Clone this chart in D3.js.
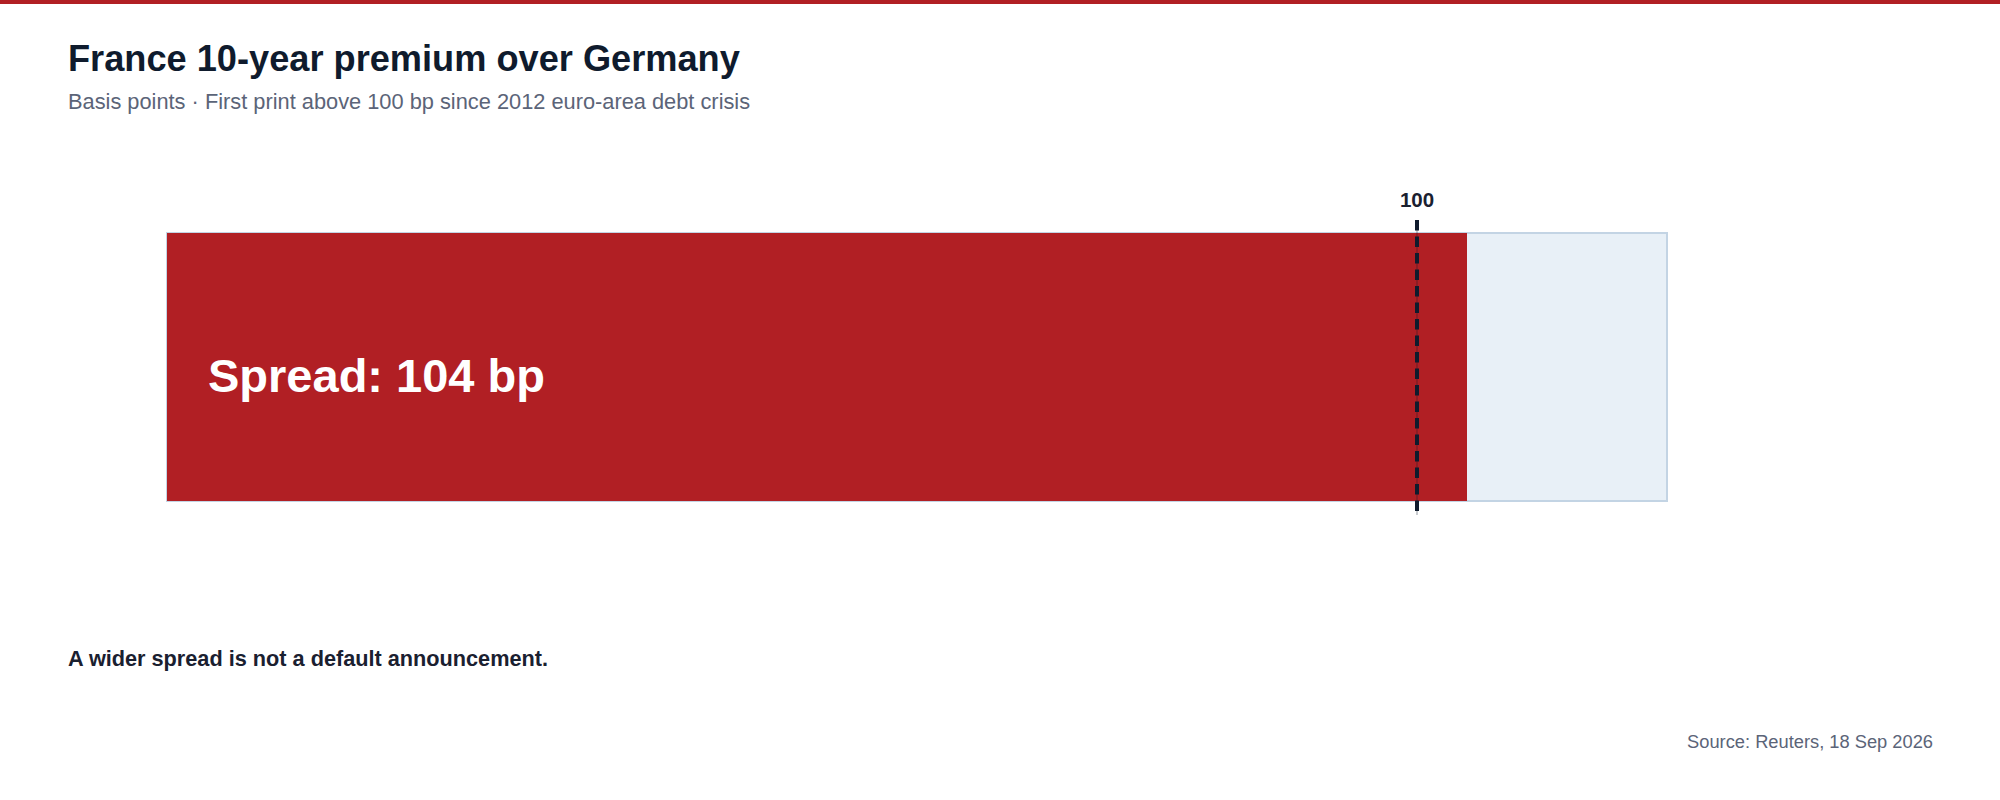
<!DOCTYPE html>
<html>
<head>
<meta charset="utf-8">
<script src="https://cdn.jsdelivr.net/npm/d3@7.9.0/dist/d3.min.js"></script>
<style>
  html, body { margin: 0; padding: 0; background: #fff; }
  svg { display: block; font-family: "Liberation Sans", Arial, Helvetica, sans-serif; }
</style>
</head>
<body>
<svg id="chart" width="2000" height="800"></svg>
<script>
// chart values
const categories = ['France vs Germany 10y'];
const spreadValues = [104];
const thresholdValues = [100];
const domainMax = [120];

const title = 'France 10-year premium over Germany';
const subtitle = 'Basis points \u00b7 First print above 100 bp since 2012 euro-area debt crisis';
const note = 'A wider spread is not a default announcement.';
const source = 'Source: Reuters, 18 Sep 2026';

const svg = d3.select('#chart');

// top accent rule
svg.append('rect')
  .attr('x', 0).attr('y', 0)
  .attr('width', 2000).attr('height', 4)
  .attr('fill', '#b11f24');

svg.append('text')
  .attr('x', 68).attr('y', 71)
  .attr('font-size', 36.2).attr('font-weight', 700)
  .attr('fill', '#0f1b2d')
  .text(title);

svg.append('text')
  .attr('x', 68).attr('y', 109)
  .attr('font-size', 21.8)
  .attr('fill', '#5b6478')
  .text(subtitle);

let x = d3.scaleLinear().domain([0, domainMax[0]]).range([167, 1667]);
let y = d3.scaleBand().domain(categories).range([233, 501]).padding(0);

// track (full scale)
svg.selectAll('rect.track')
  .data(categories)
  .join('rect')
  .attr('class', 'track')
  .attr('x', x(0))
  .attr('y', d => y(d))
  .attr('width', x(domainMax[0]) - x(0))
  .attr('height', y.bandwidth())
  .attr('fill', '#e8f0f7')
  .attr('stroke', '#c3d4e4')
  .attr('stroke-width', 2);

// spread bar
svg.selectAll('rect.bar')
  .data(spreadValues)
  .join('rect')
  .attr('class', 'bar')
  .attr('x', x(0))
  .attr('y', (d, i) => y(categories[i]))
  .attr('width', d => x(d) - x(0))
  .attr('height', y.bandwidth())
  .attr('fill', '#b11f24');

svg.selectAll('text.barlabel')
  .data(spreadValues)
  .join('text')
  .attr('class', 'barlabel')
  .attr('x', x(0) + 41)
  .attr('y', (d, i) => y(categories[i]) + y.bandwidth() / 2 + 25)
  .attr('font-size', 47).attr('font-weight', 700)
  .attr('fill', '#fff')
  .text(d => `Spread: ${d} bp`);

// threshold marker
thresholdValues.forEach(t => {
  const top = y.range()[0] - 13;
  const bottom = y.range()[1] + 14;
  svg.append('line')
    .attr('x1', x(t)).attr('x2', x(t))
    .attr('y1', top).attr('y2', bottom)
    .attr('stroke', '#0f1b2d').attr('stroke-opacity', 0.45)
    .attr('stroke-width', 1);
  svg.append('line')
    .attr('x1', x(t)).attr('x2', x(t))
    .attr('y1', top).attr('y2', bottom)
    .attr('stroke', '#0f1b2d')
    .attr('stroke-width', 4)
    .attr('stroke-dasharray', '10.5,6');
  svg.append('text')
    .attr('x', x(t)).attr('y', 207)
    .attr('text-anchor', 'middle')
    .attr('font-size', 20.5).attr('font-weight', 700)
    .attr('fill', '#1a2030')
    .text(t);
});

svg.append('text')
  .attr('x', 68).attr('y', 666)
  .attr('font-size', 21.7).attr('font-weight', 700)
  .attr('fill', '#1a2030')
  .text(note);

svg.append('text')
  .attr('x', 1933).attr('y', 748)
  .attr('text-anchor', 'end')
  .attr('font-size', 18.3)
  .attr('fill', '#5b6478')
  .text(source);
</script>
</body>
</html>
